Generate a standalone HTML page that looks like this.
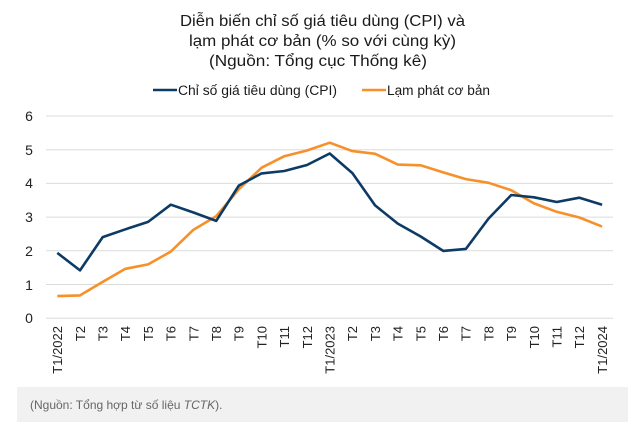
<!DOCTYPE html>
<html><head><meta charset="utf-8"><style>
html,body{margin:0;padding:0;background:#fff;width:641px;height:426px;overflow:hidden}
svg{display:block;font-family:"Liberation Sans","DejaVu Sans",sans-serif}
</style></head><body>
<svg width="641" height="426" viewBox="0 0 641 426">
<text x="180" y="26" font-size="15.5" fill="#1a1a1a" textLength="285" lengthAdjust="spacingAndGlyphs">Diễn biến chỉ số giá tiêu dùng (CPI) và</text>
<text x="189" y="46" font-size="15.5" fill="#1a1a1a" textLength="267" lengthAdjust="spacingAndGlyphs">lạm phát cơ bản (% so với cùng kỳ)</text>
<text x="209" y="66" font-size="15.5" fill="#1a1a1a" textLength="218" lengthAdjust="spacingAndGlyphs">(Nguồn: Tổng cục Thống kê)</text>
<line x1="153" y1="90" x2="177" y2="90" stroke="#0d3b66" stroke-width="2.5"/>
<text x="178" y="95" font-size="13.5" fill="#1a1a1a" textLength="159" lengthAdjust="spacingAndGlyphs">Chỉ số giá tiêu dùng (CPI)</text>
<line x1="362" y1="90" x2="386" y2="90" stroke="#f7902a" stroke-width="2.5"/>
<text x="387" y="95" font-size="13.5" fill="#1a1a1a" textLength="103" lengthAdjust="spacingAndGlyphs">Lạm phát cơ bản</text>
<g stroke="#dcdcdc" stroke-width="1">
<line x1="46" y1="116" x2="613" y2="116"/><line x1="46" y1="149.7" x2="613" y2="149.7"/>
<line x1="46" y1="183.4" x2="613" y2="183.4"/><line x1="46" y1="217.1" x2="613" y2="217.1"/>
<line x1="46" y1="250.8" x2="613" y2="250.8"/><line x1="46" y1="284.5" x2="613" y2="284.5"/>
<line x1="46" y1="318.3" x2="613" y2="318.3"/>
</g>
<g font-size="14" fill="#222" text-anchor="middle">
<text x="29" y="121">6</text><text x="29" y="155">5</text><text x="29" y="188">4</text>
<text x="29" y="222">3</text><text x="29" y="256">2</text><text x="29" y="290">1</text><text x="29" y="323">0</text>
</g>
<g id="xl" font-size="13" fill="#222" text-anchor="end"></g>
<polyline id="core" fill="none" stroke="#f7902a" stroke-width="2.6" stroke-linejoin="round"/>
<polyline id="cpi" fill="none" stroke="#0d3b66" stroke-width="2.6" stroke-linejoin="round"/>
<rect x="17" y="387" width="611" height="35" fill="#f1f1f1"/>
<text x="30" y="409" font-size="12" fill="#666">(Nguồn: Tổng hợp từ số liệu <tspan font-style="italic">TCTK</tspan>).</text>
</svg>
<script>
var cpi=[1.94,1.42,2.41,2.64,2.86,3.37,3.14,2.89,3.94,4.30,4.37,4.55,4.89,4.31,3.35,2.81,2.43,2.00,2.06,2.96,3.66,3.59,3.45,3.58,3.37];
var core=[0.66,0.68,1.08,1.47,1.60,1.98,2.63,3.03,3.83,4.47,4.81,4.98,5.21,4.96,4.88,4.56,4.54,4.33,4.13,4.02,3.80,3.41,3.16,2.99,2.72];
var labs=["T1/2022","T2","T3","T4","T5","T6","T7","T8","T9","T10","T11","T12","T1/2023","T2","T3","T4","T5","T6","T7","T8","T9","T10","T11","T12","T1/2024"];
function X(i){return 57.3+i*22.7} function Y(v){return 318.3-v*33.7}
function pts(a){return a.map(function(v,i){return X(i).toFixed(1)+","+Y(v).toFixed(1)}).join(" ")}
document.getElementById("cpi").setAttribute("points",pts(cpi));
document.getElementById("core").setAttribute("points",pts(core));
var g=document.getElementById("xl"),s="";
labs.forEach(function(l,i){var x=X(i)+4.8;s+='<text transform="translate('+x.toFixed(1)+',326) rotate(-90)">'+l+'</text>'});
g.innerHTML=s;
</script>
</body></html>
